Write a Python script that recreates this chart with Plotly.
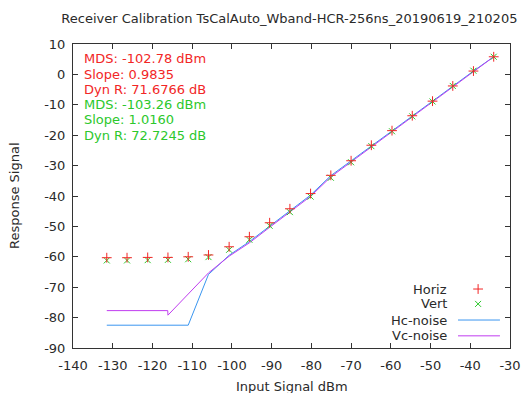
import plotly.graph_objects as go

# Measured receiver response (dBm in -> dB out)
input_dbm = [-131.5, -126.4, -121.2, -116.1, -111.0, -105.9, -100.7, -95.6, -90.5, -85.4,
             -80.2, -75.1, -70.0, -64.9, -59.7, -54.6, -49.5, -44.4, -39.2, -34.1]
horiz = [-60.3, -60.3, -60.2, -60.2, -60.0, -59.4, -56.7, -53.4, -48.8, -44.2,
         -39.2, -33.2, -28.4, -23.3, -18.5, -13.6, -8.8, -3.8, 1.1, 5.8]
vert = [-61.2, -61.2, -61.1, -61.0, -60.8, -60.1, -57.7, -54.4, -49.8, -45.3,
        -40.2, -34.0, -28.9, -23.6, -18.7, -13.8, -8.9, -3.8, 1.2, 5.8]

# Noise-corrected curves
hc_x = input_dbm
hc_noise = [-82.5, -82.5, -82.5, -82.5, -82.5, -65.8, -59.5, -55.0, -49.9, -44.8,
            -39.7, -33.3, -28.5, -23.4, -18.6, -13.7, -8.9, -3.9, 1.1, 5.8]
vc_x = [-131.5, -126.4, -121.2, -116.15, -116.1, -111.0, -105.9, -100.7, -95.6, -90.5,
        -85.4, -80.2, -75.1, -70.0, -64.9, -59.7, -54.6, -49.5, -44.4, -39.2, -34.1]
vc_noise = [-77.7, -77.7, -77.7, -77.7, -79.2, -72.3, -65.3, -59.8, -55.4, -50.3,
            -45.2, -40.1, -33.7, -28.8, -23.6, -18.7, -13.8, -8.9, -3.9, 1.1, 5.8]

x_ticks = [-140, -130, -120, -110, -100, -90, -80, -70, -60, -50, -40, -30]
y_ticks = [10, 0, -10, -20, -30, -40, -50, -60, -70, -80, -90]

stats_h = ["MDS: -102.78 dBm", "Slope: 0.9835", "Dyn R: 71.6766 dB"]
stats_v = ["MDS: -103.26 dBm", "Slope: 1.0160", "Dyn R: 72.7245 dB"]

legend_names = ["Horiz", "Vert", "Hc-noise", "Vc-noise"]

RED = "#f22626"
GREEN = "#2cc82c"
BLUE = "#3a96f0"
VIOLET = "#c03cf0"
TEXT = "#2a2a2a"
FONT = "DejaVu Sans"

PLUS = dict(symbol="cross-thin", size=7, line=dict(color=RED, width=1))
CROSS = dict(symbol="x-thin", size=6, line=dict(color=GREEN, width=1))

fig = go.Figure()

fig.add_trace(go.Scatter(x=hc_x, y=hc_noise, mode="lines",
                         line=dict(color=BLUE, width=1), showlegend=False))
fig.add_trace(go.Scatter(x=vc_x, y=vc_noise, mode="lines",
                         line=dict(color=VIOLET, width=1), showlegend=False))
fig.add_trace(go.Scatter(x=input_dbm, y=vert, mode="markers", marker=CROSS, showlegend=False))
fig.add_trace(go.Scatter(x=input_dbm, y=horiz, mode="markers", marker=PLUS, showlegend=False))

# gnuplot-style key: right-aligned labels with samples to their right
key_y = [0.194, 0.145, 0.092, 0.040]
key_styles = [
    dict(mode="markers", marker=PLUS),
    dict(mode="markers", marker=CROSS),
    dict(mode="lines", line=dict(color=BLUE, width=1)),
    dict(mode="lines", line=dict(color=VIOLET, width=1)),
]
for name, ky, st in zip(legend_names, key_y, key_styles):
    if st["mode"] == "markers":
        xs, ys = [0.927], [ky]
    else:
        xs, ys = [0.881, 0.977], [ky, ky]
    fig.add_trace(go.Scatter(x=xs, y=ys, xaxis="x2", yaxis="y2", showlegend=False,
                             hoverinfo="skip", **st))
    fig.add_annotation(x=0.86, y=ky, xref="x2", yref="y2", text=name, showarrow=False,
                       xanchor="right", yanchor="middle",
                       font=dict(family=FONT, size=13, color=TEXT))

# Fit statistics block
for i, line in enumerate(stats_h + stats_v):
    fig.add_annotation(x=0.02, y=0.951 - i * 0.0502, xref="x2", yref="y2", text=line,
                       showarrow=False, xanchor="left", yanchor="middle",
                       font=dict(family=FONT, size=13, color=RED if i < 3 else GREEN))

# Axis titles
fig.add_annotation(x=0.5, y=0, xref="paper", yref="paper", text="Input Signal dBm",
                   showarrow=False, xanchor="center", yanchor="middle", yshift=-38,
                   font=dict(family=FONT, size=13, color=TEXT))
fig.add_annotation(x=0, y=0.5, xref="paper", yref="paper", text="Response Signal",
                   showarrow=False, xanchor="center", yanchor="middle", xshift=-59,
                   textangle=-90, font=dict(family=FONT, size=13, color=TEXT))

fig.update_layout(
    width=531, height=393,
    margin=dict(l=73, r=21, t=44, b=45),
    paper_bgcolor="white", plot_bgcolor="white",
    font=dict(family=FONT, size=13, color=TEXT),
    title=dict(text="Receiver Calibration TsCalAuto_Wband-HCR-256ns_20190619_210205",
               x=0.545, xanchor="center", y=0.952, yanchor="middle",
               font=dict(family=FONT, size=13, color=TEXT)),
    xaxis=dict(range=[-140, -30], tickvals=x_ticks, ticktext=[str(v) for v in x_ticks],
               ticks="inside", ticklen=5, tickcolor="#333333", showline=True,
               linecolor="#333333", linewidth=1, mirror="ticks", showgrid=False,
               zeroline=False, ticklabelstandoff=5, automargin=False),
    yaxis=dict(range=[-90, 10], tickvals=y_ticks, ticktext=[str(v) for v in y_ticks],
               ticks="inside", ticklen=5, tickcolor="#333333", showline=True,
               linecolor="#333333", linewidth=1, mirror="ticks", showgrid=False,
               zeroline=False, ticklabelstandoff=4, automargin=False),
    xaxis2=dict(range=[0, 1], overlaying="x", visible=False, fixedrange=True),
    yaxis2=dict(range=[0, 1], overlaying="y", visible=False, fixedrange=True),
)

fig.write_html("out.html")
